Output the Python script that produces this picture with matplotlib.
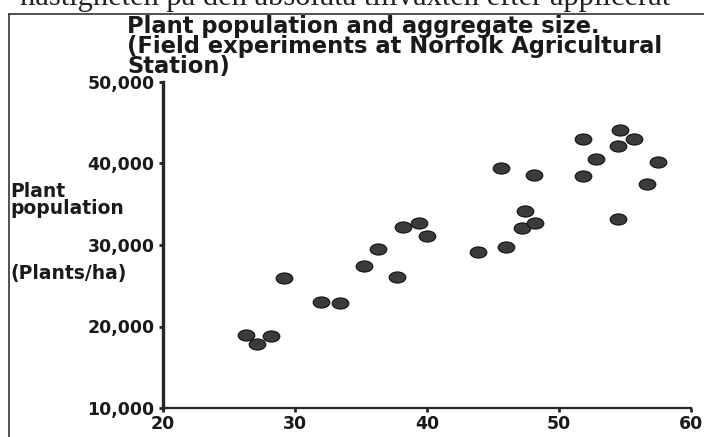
import matplotlib
matplotlib.use("Agg")
import matplotlib.pyplot as plt
from matplotlib.markers import MarkerStyle
from matplotlib.transforms import Affine2D
from matplotlib.lines import Line2D
from matplotlib.ticker import FuncFormatter

# aggregate size (x) and plant population, plants/ha (y)
aggregate_size = [26.3, 27.1, 28.2, 29.2, 32.0, 33.4, 35.2, 36.3, 37.7, 38.2,
                  39.4, 40.0, 43.9, 46.0, 47.2, 48.2, 47.4, 45.6, 48.1, 51.8,
                  51.8, 52.8, 54.6, 54.5, 55.7, 57.5, 56.7, 54.5]
plant_population = [18960, 17850, 18830, 25910, 23040, 22850, 27460, 29550, 26110, 32250,
                    32740, 31140, 29140, 29750, 32120, 32700, 34210, 39410, 38550, 38430,
                    43040, 40580, 44110, 42090, 43040, 40180, 37490, 33190]

x_ticks = [20, 30, 40, 50, 60]
y_ticks = [10000, 20000, 30000, 40000, 50000]

title = "Plant population and aggregate size.\n(Field experiments at Norfolk Agricultural\nStation)"
page_text = "hastigheten på den absoluta tillväxten efter applicerat"

fig = plt.figure(figsize=(7.04, 4.37), dpi=100)
ax = fig.add_axes([163 / 704, 29 / 437, 528 / 704, 326 / 437])

ink = "#262626"
oval = MarkerStyle("o", transform=Affine2D().scale(1.5, 1.0))
ax.scatter(aggregate_size, plant_population, marker=oval, s=64,
           facecolor="#3b3b3b", edgecolor="#111111", linewidth=0.8, zorder=3)

ax.set_xlim(20, 60)
ax.set_ylim(10000, 50000)
ax.set_xticks(x_ticks)
ax.set_yticks(y_ticks)
ax.yaxis.set_major_formatter(FuncFormatter(lambda v, p: "{:,}".format(int(v))))

for side in ["top", "right"]:
    ax.spines[side].set_visible(False)
ax.spines["left"].set_linewidth(2.4)
ax.spines["left"].set_color(ink)
ax.spines["bottom"].set_linewidth(1.6)
ax.spines["bottom"].set_color(ink)

ax.tick_params(axis="both", direction="out", length=3, width=2, color=ink,
               labelsize=12.5, labelcolor="#1a1a1a")
ax.tick_params(axis="y", pad=3)
ax.tick_params(axis="x", pad=2)
for lab in ax.get_xticklabels() + ax.get_yticklabels():
    lab.set_fontweight("bold")

# side labels
fig.text(10 / 704, 1 - 200 / 437, "Plant\npopulation", fontsize=13.5, fontweight="bold",
         color="#1a1a1a", va="center", ha="left", linespacing=0.9)
fig.text(10 / 704, 1 - 273 / 437, "(Plants/ha)", fontsize=13.5, fontweight="bold",
         color="#1a1a1a", va="center", ha="left")

# title
fig.text(127 / 704, 1 - 15 / 437, title, fontsize=16.3, fontweight="bold",
         color="#1a1a1a", va="top", ha="left", linespacing=0.82)

# scanned page: text line cut at the top and the box frame
fig.text(20 / 704, 1 - 5 / 437, page_text, fontsize=22, family="Liberation Serif",
         color="#222222", va="baseline", ha="left")
fig.add_artist(Line2D([9 / 704, 9 / 704], [0, 1 - 14 / 437], transform=fig.transFigure,
                      color="#333333", linewidth=1.2))
fig.add_artist(Line2D([9 / 704, 1], [1 - 14 / 437, 1 - 14 / 437], transform=fig.transFigure,
                      color="#333333", linewidth=1.2))

fig.savefig("out.png", dpi=100)
